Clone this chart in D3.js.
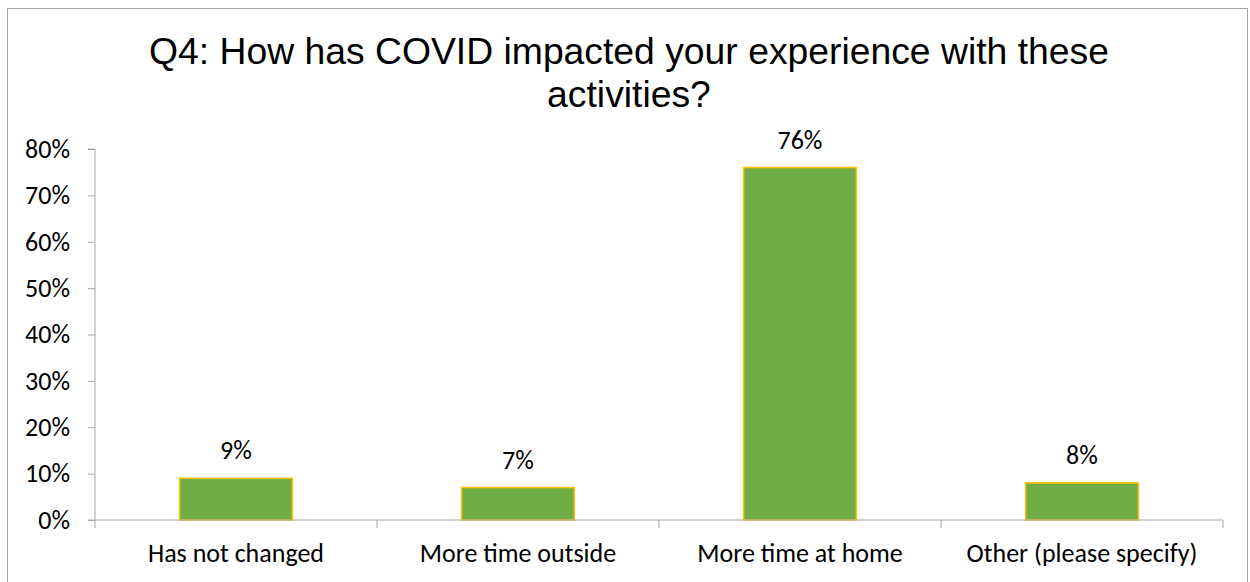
<!DOCTYPE html>
<html><head><meta charset="utf-8">
<script src="https://cdn.jsdelivr.net/npm/d3@7"></script>
<style>
html,body{margin:0;padding:0;background:#fff;}
svg{display:block;}
</style></head>
<body>
<svg id="chart" width="1250" height="582"></svg>
<script>
const categories = ["Has not changed", "More time outside", "More time at home", "Other (please specify)"];
const values = [0.09, 0.07, 0.76, 0.08];
const valueLabels = ["9%", "7%", "76%", "8%"];
const yTicks = [0, 0.1, 0.2, 0.3, 0.4, 0.5, 0.6, 0.7, 0.8];
const titleLines = ["Q4: How has COVID impacted your experience with these", "activities?"];

const svg = d3.select("#chart");
const m = {left: 95, right: 1223, top: 149, bottom: 520};
const labelFont = "Carlito, Calibri, 'Open Sans', sans-serif";
const labelSize = 26;

svg.append("rect").attr("x", 7.5).attr("y", 8.5).attr("width", 1240).attr("height", 580)
  .attr("fill", "#fff").attr("stroke", "#a6a6a6").attr("stroke-width", 1);

const t = svg.append("text").attr("text-anchor", "middle")
  .attr("font-family", "'Liberation Sans', Arial, sans-serif").attr("font-size", 37.3).attr("fill", "#000");
titleLines.forEach((l, i) => t.append("tspan").attr("x", 629).attr("y", 64 + i * 43).text(l));

const x = d3.scaleBand().domain(categories).range([m.left, m.right]).paddingInner(0.6).paddingOuter(0.3);
const y = d3.scaleLinear().domain([0, 0.8]).range([m.bottom, m.top]);

// y axis
const ya = svg.append("g").attr("transform", `translate(${m.left},0)`)
  .call(d3.axisLeft(y).tickValues(yTicks).tickFormat(d3.format(".0%")).tickSize(7).tickPadding(18));
ya.select(".domain").attr("stroke", "#a6a6a6").attr("d", `M-7,${m.top}H0V${m.bottom}H-7`);
ya.selectAll(".tick line").attr("stroke", "#a6a6a6");
ya.selectAll(".tick text").attr("font-family", labelFont).attr("font-size", labelSize).attr("fill", "#000");

// bars
svg.append("g").selectAll("rect").data(values).join("rect")
  .attr("x", (d, i) => x(categories[i]))
  .attr("y", d => y(d))
  .attr("width", x.bandwidth())
  .attr("height", d => y(0) - y(d))
  .attr("fill", "#70ad47").attr("stroke", "#ffc000").attr("stroke-width", 1.5);

// x axis
const step = (m.right - m.left) / categories.length;
const xa = svg.append("g").attr("transform", `translate(0,${m.bottom})`);
xa.append("line").attr("x1", m.left).attr("x2", m.right).attr("stroke", "#a6a6a6");
d3.range(categories.length + 1).forEach(i => {
  xa.append("line").attr("x1", m.left + i * step).attr("x2", m.left + i * step)
    .attr("y1", 0).attr("y2", 8).attr("stroke", "#a6a6a6");
});
xa.selectAll("text.cat").data(categories).join("text").attr("class", "cat")
  .attr("x", d => x(d) + x.bandwidth() / 2).attr("y", 42)
  .attr("text-anchor", "middle").attr("font-family", labelFont).attr("font-size", labelSize).text(d => d);

// data labels
svg.append("g").selectAll("text").data(values).join("text")
  .attr("x", (d, i) => x(categories[i]) + x.bandwidth() / 2)
  .attr("y", d => y(d) - 19)
  .attr("text-anchor", "middle").attr("font-family", labelFont).attr("font-size", labelSize)
  .text((d, i) => valueLabels[i]);
</script>
</body></html>
